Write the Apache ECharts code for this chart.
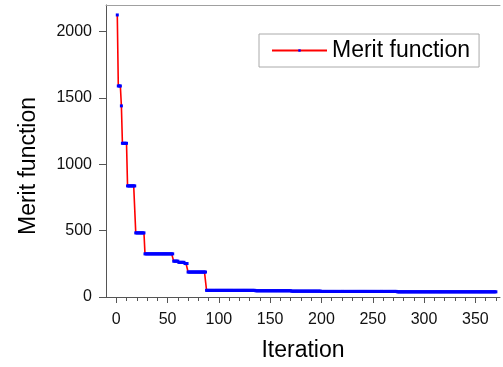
<!DOCTYPE html>
<html>
<head>
<meta charset="utf-8">
<script src="https://cdn.jsdelivr.net/npm/echarts@6/dist/echarts.min.js"></script>
<style>html,body{margin:0;padding:0;background:#fff;}#c{width:503px;height:367px;}</style>
</head>
<body>
<div id="c"></div>
<script>
// Step runs: iterations runStart..runEnd hold runValue
var runStart = [1, 2, 5, 6, 11, 19, 28, 56, 61, 67, 70, 88, 136, 171, 200, 274];
var runEnd   = [1, 4, 5, 10, 18, 27, 55, 60, 66, 69, 87, 135, 170, 199, 273, 370];
var runValue = [2125, 1590, 1440, 1158, 837, 483, 325, 270, 261, 252, 188, 50, 47, 44, 42, 39];
var xMajorTicks = [0, 50, 100, 150, 200, 250, 300, 350];
var xMinorTicks = [0,10,20,30,40,50,60,70,80,90,100,110,120,130,140,150,160,170,180,190,200,210,220,230,240,250,260,270,280,290,300,310,320,330,340,350,360,370];
var yTicks = [0, 500, 1000, 1500, 2000];

var points = [];
for (var r = 0; r < runStart.length; r++) {
  for (var it = runStart[r]; it <= runEnd[r]; it++) points.push([it, runValue[r]]);
}

var font = 'Liberation Sans, Arial, sans-serif';
var chart = echarts.init(document.getElementById('c'), null, {renderer: 'canvas'});
chart.setOption({
  animation: false,
  backgroundColor: '#fff',
  grid: {left: 106, right: 3, top: 5, bottom: 68},
  legend: {
    left: 259, top: 34,
    padding: [4, 9, 4, 12],
    borderColor: '#aaaaaa', borderWidth: 1,
    itemWidth: 55, itemHeight: 3,
    textStyle: {fontFamily: font, fontSize: 23, color: '#000', lineHeight: 25},
    data: ['Merit function']
  },
  xAxis: [{
    type: 'value', position: 'bottom', min: -10, max: 374,
    name: 'Iteration', nameLocation: 'middle', nameGap: 42,
    nameTextStyle: {fontFamily: font, fontSize: 23, color: '#000'},
    axisLine: {show: true, onZero: false, lineStyle: {color: '#555', width: 1}},
    axisTick: {show: true, length: 6, customValues: xMajorTicks, lineStyle: {color: '#555'}},
    axisLabel: {customValues: xMajorTicks, margin: 15, fontFamily: font, fontSize: 16, color: '#111'},
    splitLine: {show: false}
  }, {
    type: 'value', position: 'bottom', min: -10, max: 374,
    axisLine: {show: false, onZero: false},
    axisTick: {show: true, length: 4, customValues: xMinorTicks, lineStyle: {color: '#555'}},
    axisLabel: {show: false},
    splitLine: {show: false}
  }, {
    type: 'value', position: 'top', min: -10, max: 374,
    axisLine: {show: true, onZero: false, lineStyle: {color: '#a0a0a0', width: 1}},
    axisTick: {show: false}, axisLabel: {show: false}, splitLine: {show: false}
  }],
  yAxis: {
    type: 'value', min: 0, max: 2200, position: 'left',
    name: 'Merit function', nameLocation: 'middle', nameGap: 66, nameRotate: 90,
    nameTextStyle: {fontFamily: font, fontSize: 23, color: '#000', padding: [0, 30, 0, 0]},
    axisLine: {show: true, onZero: false, lineStyle: {color: '#555', width: 1}},
    axisTick: {show: true, length: 7, customValues: yTicks, lineStyle: {color: '#555'}},
    axisLabel: {customValues: yTicks, margin: 14, fontFamily: font, fontSize: 16, color: '#111',
      formatter: function (v) { return String(v); }},
    splitLine: {show: false}
  },
  series: [{
    name: 'Merit function',
    type: 'line',
    xAxisIndex: 0,
    data: points,
    symbol: 'rect', symbolSize: 3, showSymbol: true,
    lineStyle: {color: '#ff0000', width: 1.6},
    itemStyle: {color: '#0000ff'},
    emphasis: {disabled: true}
  }]
});
</script>
</body>
</html>
